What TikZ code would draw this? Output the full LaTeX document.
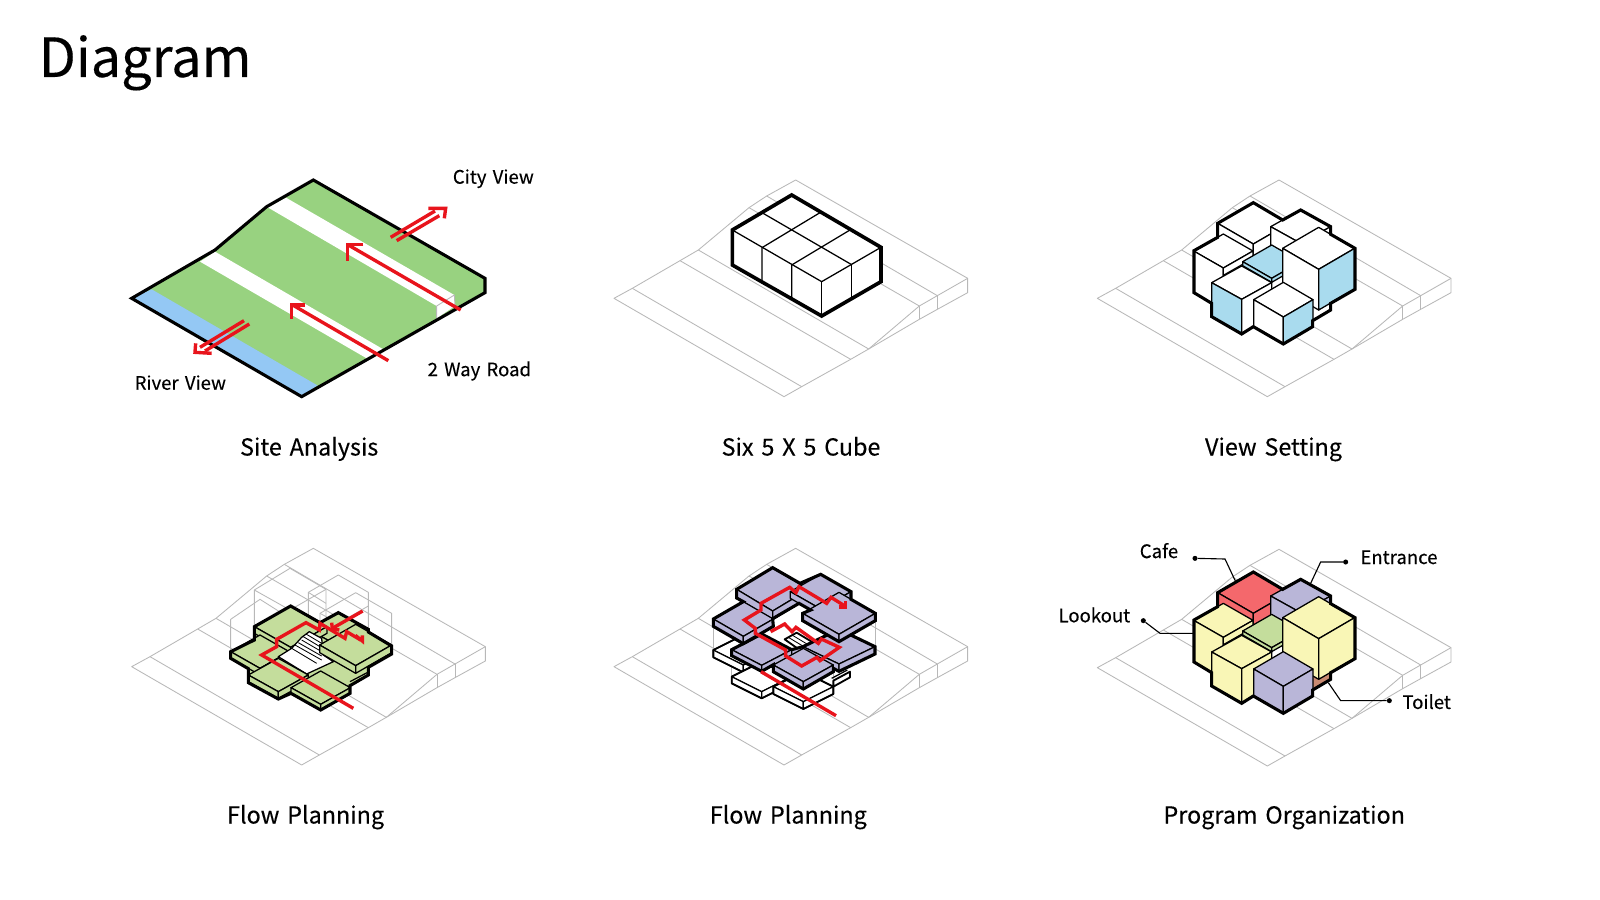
\documentclass[tikz,border=0pt]{standalone}
\usepackage{fontspec}
\setmainfont[FakeBold=.25, WordSpace=1.5]{Noto Sans CJK KR}
\definecolor{sitegreen}{HTML}{98D280}
\definecolor{riverblue}{HTML}{94C8F4}
\definecolor{viewblue}{HTML}{A9DBEE}
\definecolor{ghostgray}{HTML}{B8B8B8}
\definecolor{slabgreen}{HTML}{C4DD9C}
\definecolor{slabpurple}{HTML}{B9B6D8}
\definecolor{cafered}{HTML}{F4686C}
\definecolor{liteyellow}{HTML}{F9F6B6}
\definecolor{toiletbrown}{HTML}{C98A72}
\definecolor{flowred}{HTML}{E8141C}
\tikzset{
	ghost/.style={draw=ghostgray, line width=.6pt, line join=round},
	stairline/.style={draw=black, line width=.6pt},
	boxline/.style={draw=black, line width=.9pt, line join=round},
	midline/.style={draw=black, line width=1.3pt, line join=round},
	heavy/.style={draw=black, line width=2.2pt, line join=miter},
	flow/.style={draw=flowred, line width=2.4pt, line join=miter},
	small/.style={font=\fontsize{13.2pt}{15pt}\selectfont, inner sep=0pt},
	caption/.style={font=\fontsize{16.6pt}{18pt}\selectfont, inner sep=0pt, anchor=base},
	leader/.style={draw=black, line width=.8pt},
	leaderdot/.style={circle, fill=black, inner sep=0pt, minimum size=3.6pt},
}
% one box: top corner x, y, half width, half depth, height, then top, left, right colours
\newcommand{\isobox}[8]{
	\filldraw[boxline, fill=#6] (#1,#2) -- ++(-#3,#4) -- ++(#3,#4) -- ++(#3,-#4) -- cycle;
	\filldraw[boxline, fill=#7] (#1-#3,#2+#4) -- ++(#3,#4) -- ++(0,#5) -- ++(-#3,-#4) -- cycle;
	\filldraw[boxline, fill=#8] (#1+#3,#2+#4) -- ++(-#3,#4) -- ++(0,#5) -- ++(#3,-#4) -- cycle;
}
% a slab of one colour
\newcommand{\slab}[6]{
	\isobox{#1}{#2}{#3}{#4}{#5}{#6}{#6}{#6}
}
% a white slab of the lower floor
\newcommand{\lowslab}[5]{
	\isobox{#1}{#2}{#3}{#4}{#5}{white}{white}{white}
	\draw[midline] (#1,#2) -- ++(-#3,#4) -- ++(0,#5) -- ++(#3,#4) -- ++(#3,-#4) -- ++(0,-#5) -- cycle;
}
\newcommand{\sitebase}{
	\draw[ghost] (42,415) -- (97,385) -- (240,302) -- (295,270) -- (447,143) -- (500,108) -- (587,60) -- (1103,355) -- (1103,398) -- (1012,448) -- (958,478) -- (806,567) -- (752,598) -- (605,680) -- (552,710) -- cycle;
	\draw[ghost] (97,385) -- (605,680);
	\draw[ghost] (240,302) -- (752,598);
	\draw[ghost] (295,270) -- (806,567) -- (958,438);
	\draw[ghost] (447,143) -- (958,438) -- (1012,407) -- (1103,355);
	\draw[ghost] (500,108) -- (1012,407);
	\draw[ghost] (958,438) -- (958,478);
	\draw[ghost] (1012,407) -- (1012,448);
}
% the six cubes, arguments are colours
\newcommand{\cubegroup}[9]{
	\isobox{632}{350}{90}{50}{50}{#1}{#1}{#1}
	\isobox{490}{128}{107}{62}{100}{#2}{#2}{#2}
	\isobox{632}{150}{90}{50}{100}{#3}{#3}{#3}
	\isobox{400}{222}{89}{51}{126}{#4}{#4}{#4}
	\draw[boxline] (402,345) -- (458,313);
	\isobox{545}{255}{87}{50}{12}{#5}{#5}{#5}
	\isobox{686}{202}{108}{63}{122}{#6}{#6}{#7}
	\isobox{455}{318}{90}{50}{102}{#6}{#8}{#6}
	\isobox{580}{367}{89}{52}{80}{#9}{#9}{\cubegroupright}
	\draw[heavy] (383,232) -- (383,190) -- (490,128) -- (578,180) -- (632,150) -- (722,200) -- (722,223) -- (795,265) -- (795,388) -- (722,430) -- (722,450) -- (668,482) -- (668,500) -- (580,552) -- (490,500) -- (455,522) -- (365,470) -- (365,430) -- (312,398) -- (312,272) -- cycle;
}

\begin{document}
\begin{tikzpicture}[x=.025cm, y=-.025cm]
	\useasboundingbox (0,0) rectangle (1600,900);
	\fill[white] (0,0) rectangle (1600,900);
	\node[font=\fontsize{38.4pt}{46pt}\selectfont, inner sep=0pt, anchor=base west] (title) at (38.5,77) {Diagram};

	% site analysis
	\begin{scope}[shift={(100,150)}, scale=1/3]
		\fill[sitegreen] (95,445) -- (345,300) -- (500,170) -- (640,90) -- (1155,385) -- (1155,428) -- (605,740) -- cycle;
		\fill[riverblue] (95,445) -- (155,418) -- (652,706) -- (605,740) -- cycle;
		\fill[white] (300,335) -- (345,305) -- (850,598) -- (800,625) -- cycle;
		\fill[white] (503,172) -- (558,143) -- (1063,435) -- (1010,468) -- cycle;
		\fill[white] (1010,468) -- (1063,435) -- (1065,468) -- (1010,505) -- cycle;
		\draw[ghost] (1010,505) -- (1010,468) -- (1063,435) -- (1065,468);
		\draw[heavy] (95,445) -- (345,300) -- (500,170) -- (640,90) -- (1155,385) -- (1155,428) -- (605,740) -- cycle;
		\draw[flow] (865,632) -- (578,465);
		\draw[flow] (615,465) -- (575,465) -- (575,508);
		\draw[flow] (1082,480) -- (745,285);
		\draw[flow] (790,283) -- (743,283) -- (743,332);
		\draw[flow] (872,262) -- (1005,183);
		\draw[flow] (890,272) -- (1018,197);
		\draw[flow] (985,175) -- (1037,175) -- (1033,205);
		\draw[flow] (432,512) -- (300,592);
		\draw[flow] (448,522) -- (315,603);
		\draw[flow] (287,580) -- (285,607) -- (335,610);
		\node[small] (cityview) at (1180,86) {City View};
		\node[small] (roadlabel) at (1138,663) {2 Way Road};
		\node[small] (riverview) at (241,698) {River View};
	\end{scope}
	\node[caption] (sitecap) at (309.2,455.5) {Site Analysis};

	% block of six
	\begin{scope}[shift={(600,160)}, scale=1/3]
		\sitebase
		\filldraw[boxline, fill=white] (397,210) -- (575,105) -- (843,262) -- (843,365) -- (665,468) -- (397,315) -- cycle;
		\draw[boxline] (397,210) -- (665,365) -- (843,262);
		\draw[boxline] (486,158) -- (755,314);
		\draw[boxline] (660,158) -- (486,263) -- (486,365);
		\draw[boxline] (750,210) -- (575,315) -- (575,415);
		\draw[boxline] (665,365) -- (665,468);
		\draw[boxline] (755,314) -- (755,415);
		\draw[heavy, line width=2.6pt] (397,210) -- (575,105) -- (843,262) -- (843,365) -- (665,468) -- (397,315) -- cycle;
	\end{scope}
	\node[caption] (cubecap) at (801,455.5) {Six 5 X 5 Cube};

	% view setting
	\begin{scope}[shift={(1083.33,160)}, scale=1/3]
		\sitebase
	\end{scope}
	\begin{scope}[shift={(1090,160)}, scale=1/3]
		\def\cubegroupright{viewblue}
		\cubegroup{white}{white}{white}{white}{viewblue}{white}{viewblue}{viewblue}{white}
	\end{scope}
	\node[caption] (viewcap) at (1273.5,455.5) {View Setting};

	% flow planning, ground floor
	\begin{scope}[shift={(117.67,528.33)}, scale=1/3]
		\sitebase
	\end{scope}
	\begin{scope}[shift={(120,530)}, scale=1/3]
		\draw[ghost] (403,290) -- (403,180) -- (510,115) -- (618,178) -- (618,290);
		\draw[ghost] (403,180) -- (510,240) -- (618,178);
		\draw[ghost] (332,365) -- (332,268) -- (420,208) -- (510,265);
		\draw[ghost] (565,297) -- (565,187) -- (655,135) -- (745,187) -- (745,300);
		\draw[ghost] (565,187) -- (618,220);
		\draw[ghost] (600,345) -- (600,250) -- (707,188) -- (815,250) -- (815,348);
		\draw[ghost] (600,250) -- (655,280) -- (745,228);
		\fill[slabgreen] (403,330) -- (403,290) -- (512,228) -- (600,278) -- (655,248) -- (745,298) -- (745,306) -- (815,348) -- (815,372) -- (745,412) -- (745,435) -- (690,467) -- (690,490) -- (602,540) -- (513,490) -- (475,507) -- (385,458) -- (385,416) -- (332,385) -- (332,365) -- cycle;
		\draw[boxline] (690,455) -- (747,425);
		\slab{655}{248}{90}{50}{20}{slabgreen}
		\slab{512}{228}{109}{62}{20}{slabgreen}
		\slab{420}{315}{88}{50}{20}{slabgreen}
		\filldraw[boxline, fill=white] (475,380) -- (515,355) -- (545,322) -- (568,305) -- (605,325) -- (610,375) -- (640,395) -- (560,432) -- cycle;
		\draw[stairline] (558,312) -- (605,340);
		\draw[stairline] (550,320) -- (600,350);
		\draw[stairline] (545,330) -- (605,365);
		\draw[stairline] (535,338) -- (605,378);
		\draw[stairline] (525,345) -- (605,390);
		\draw[stairline] (515,355) -- (590,400);
		\slab{707}{283}{108}{62}{23}{slabgreen}
		\slab{475}{385}{90}{50}{20}{slabgreen}
		\slab{602}{423}{89}{50}{18}{slabgreen}
		\draw[heavy] (403,330) -- (403,290) -- (512,228) -- (600,278) -- (655,248) -- (745,298) -- (745,306) -- (815,348) -- (815,372) -- (745,412) -- (745,435) -- (690,467) -- (690,490) -- (602,540) -- (513,490) -- (475,507) -- (385,458) -- (385,416) -- (332,385) -- (332,365) -- cycle;
		\draw[flow] (700,535) -- (425,375) -- (470,350) -- (470,328) -- (558,278) -- (598,300) -- (600,280) -- (675,325) -- (680,305) -- (722,330);
		\draw[flow] (706,316) -- (727,333) -- (727,316);
		\draw[flow] (728,243) -- (637,295);
		\draw[flow] (635,278) -- (637,296) -- (658,300);
	\end{scope}
	\node[caption] (flowcapa) at (305.6,823.5) {Flow Planning};

	% flow planning, upper floor
	\begin{scope}[shift={(600,528.33)}, scale=1/3]
		\sitebase
	\end{scope}
	\begin{scope}[shift={(690,550)}, scale=1/3]
		\draw[ghost] (70,229) -- (70,305);
		\draw[ghost] (125,317) -- (125,385);
		\draw[ghost] (215,360) -- (215,430);
		\draw[ghost] (340,415) -- (340,460);
		\draw[ghost] (556,212) -- (556,290);
		\draw[ghost] (430,365) -- (430,405);
		\lowslab{160}{255}{90}{45}{22}
		\lowslab{215}{335}{90}{45}{20}
		\lowslab{340}{365}{90}{45}{22}
		\filldraw[midline, fill=white] (430,392) -- (480,365) -- (480,382) -- (430,410) -- cycle;
		\draw[boxline] (425,385) -- (472,360);
		\fill[white] (215,240) -- (250,205) -- (327,160) -- (362,180) -- (447,238) -- (339,290) -- (305,299) -- cycle;
		\filldraw[midline, fill=white] (284,268) -- (320,248) -- (370,278) -- (332,302) -- cycle;
		\draw[stairline] (295,262) -- (345,292);
		\draw[stairline] (306,255) -- (356,285);
		\fill[slabpurple] (125,317) -- (125,299) -- (215,252) -- (305,299) -- (339,290) -- (447,238) -- (555,290) -- (555,312) -- (447,364) -- (430,355) -- (430,365) -- (340,417) -- (250,365) -- (250,344) -- (215,364) -- cycle;
		\slab{447}{238}{108}{52}{22}{slabpurple}
		\slab{215}{252}{90}{47}{18}{slabpurple}
		\slab{340}{295}{90}{50}{22}{slabpurple}
		\draw[heavy] (125,317) -- (125,299) -- (215,252) -- (305,299) -- (339,290) -- (447,238) -- (555,290) -- (555,312) -- (447,364) -- (430,355) -- (430,365) -- (340,417) -- (250,365) -- (250,344) -- (215,364) -- cycle;
		\fill[slabpurple] (70,229) -- (70,207) -- (160,155) -- (140,144) -- (140,118) -- (248,53) -- (330,100) -- (392,73) -- (483,125) -- (483,148) -- (556,190) -- (556,212) -- (447,275) -- (338,212) -- (338,190) -- (362,180) -- (327,160) -- (248,206) -- (250,229) -- (160,281) -- cycle;
		\slab{248}{53}{108}{65}{26}{slabpurple}
		\slab{392}{73}{91}{52}{20}{slabpurple}
		\slab{160}{155}{90}{52}{22}{slabpurple}
		\slab{447}{127}{109}{63}{22}{slabpurple}
		\draw[heavy] (70,229) -- (70,207) -- (160,155) -- (140,144) -- (140,118) -- (248,53) -- (330,100) -- (392,73) -- (483,125) -- (483,148) -- (556,190) -- (556,212) -- (447,275) -- (338,212) -- (338,190) -- (362,180) -- (327,160) -- (248,206) -- (250,229) -- (160,281) -- cycle;
		\draw[flow] (438,497) -- (213,365);
		\draw[flow] (463,167) -- (423,142) -- (410,160) -- (327,110) -- (318,128) -- (299,112) -- (213,160) -- (213,180) -- (163,210) -- (196,235) -- (196,250) -- (287,300) -- (287,318) -- (335,348) -- (381,322) -- (390,332) -- (448,292) -- (394,267) -- (385,280) -- (318,232) -- (306,245) -- (284,222) -- (242,245);
		\draw[flow] (446,171) -- (466,171) -- (466,154);
	\end{scope}
	\node[caption] (flowcapb) at (788.3,823.5) {Flow Planning};

	% program organization
	\begin{scope}[shift={(1083.33,529.33)}, scale=1/3]
		\sitebase
	\end{scope}
	\begin{scope}[shift={(1090,529.33)}, scale=1/3]
		\def\cubegroupright{slabpurple}
		\cubegroup{toiletbrown}{cafered}{slabpurple}{liteyellow}{slabgreen}{liteyellow}{liteyellow}{liteyellow}{slabpurple}
	\end{scope}
	\begin{scope}[shift={(1050,530)}, scale=1/3]
		\node[leaderdot] (cafedot) at (435,85) {};
		\coordinate (cafebend) at (525,87);
		\coordinate (cafeend) at (557,155);
		\draw[leader] (cafedot) -- (cafebend) -- (cafeend);
		\node[leaderdot] (entrancedot) at (887,96) {};
		\coordinate (entrancebend) at (812,96);
		\coordinate (entranceend) at (782,160);
		\draw[leader] (entrancedot) -- (entrancebend) -- (entranceend);
		\node[leaderdot] (lookoutdot) at (280,272) {};
		\coordinate (lookoutbend) at (330,310);
		\coordinate (lookoutend) at (430,310);
		\draw[leader] (lookoutdot) -- (lookoutbend) -- (lookoutend);
		\node[leaderdot] (toiletdot) at (1018,512) {};
		\coordinate (toiletbend) at (872,512);
		\coordinate (toiletend) at (835,458);
		\draw[leader] (toiletdot) -- (toiletbend) -- (toiletend);
		\node[small] (cafe) at (327,62) {Cafe};
		\node[small] (entrance) at (1047,82) {Entrance};
		\node[small] (lookout) at (133,255) {Lookout};
		\node[small] (toilet) at (1130,515) {Toilet};
	\end{scope}
	\node[caption] (progcap) at (1284.2,823.5) {Program Organization};
\end{tikzpicture}
\end{document}
